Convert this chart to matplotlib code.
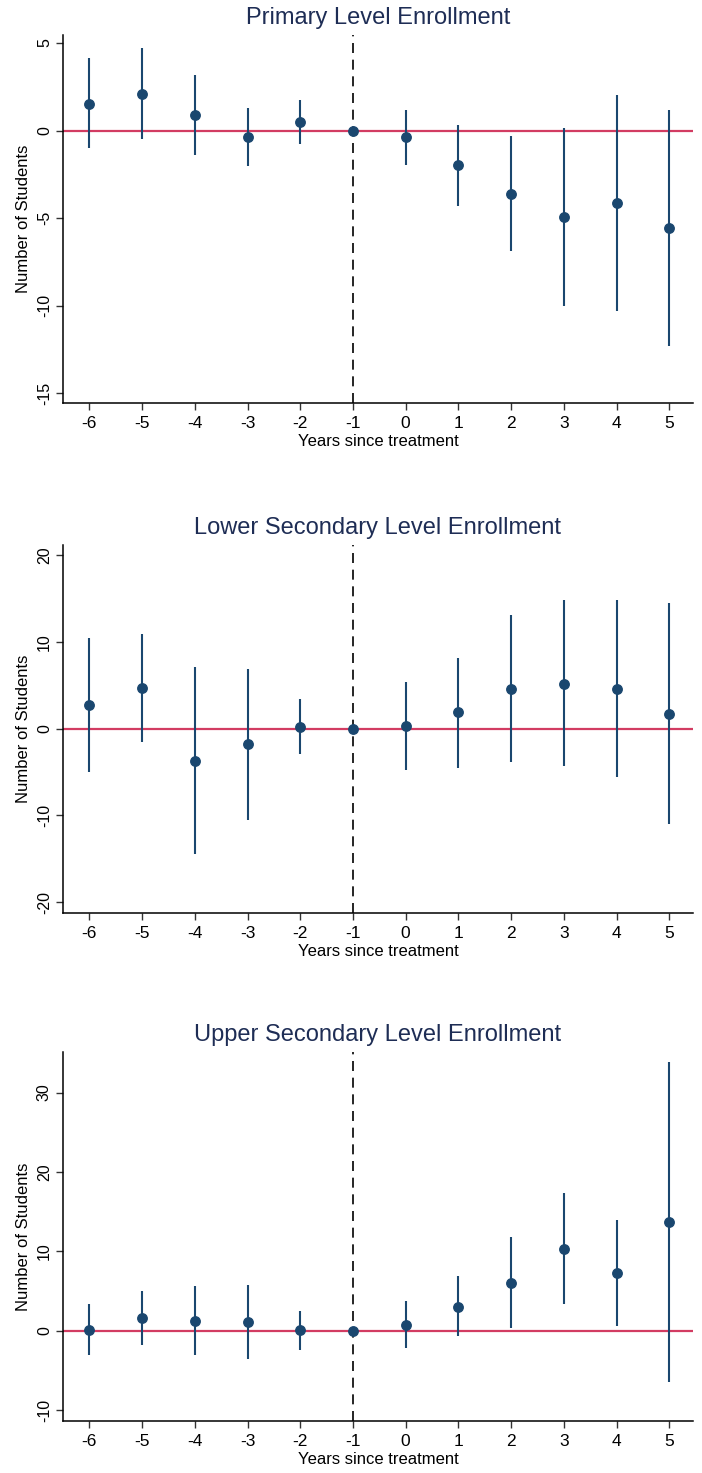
import matplotlib
matplotlib.use("Agg")
import matplotlib.pyplot as plt

years = [-6, -5, -4, -3, -2, -1, 0, 1, 2, 3, 4, 5]

titles = ["Primary Level Enrollment",
          "Lower Secondary Level Enrollment",
          "Upper Secondary Level Enrollment"]

primary_coef = [1.53, 2.09, 0.88, -0.38, 0.50, 0.0, -0.38, -1.99, -3.62, -4.94, -4.14, -5.56]
primary_hi = [4.12, 4.69, 3.20, 1.28, 1.72, 0.0, 1.17, 0.33, -0.29, 0.15, 2.05, 1.19]
primary_lo = [-1.00, -0.48, -1.40, -2.01, -0.77, 0.0, -1.95, -4.31, -6.90, -10.02, -10.30, -12.32]

lower_coef = [2.76, 4.68, -3.72, -1.80, 0.19, 0.0, 0.31, 1.88, 4.56, 5.22, 4.64, 1.76]
lower_hi = [10.47, 10.97, 7.17, 6.94, 3.41, 0.0, 5.45, 8.21, 13.08, 14.80, 14.84, 14.46]
lower_lo = [-4.95, -1.53, -14.50, -10.55, -2.95, 0.0, -4.76, -4.49, -3.87, -4.30, -5.56, -10.93]

upper_coef = [0.17, 1.64, 1.26, 1.09, 0.08, 0.0, 0.80, 3.06, 6.08, 10.37, 7.34, 13.68]
upper_hi = [3.44, 5.08, 5.62, 5.83, 2.52, 0.0, 3.73, 6.88, 11.79, 17.37, 13.97, 33.82]
upper_lo = [-3.06, -1.80, -3.06, -3.52, -2.35, 0.0, -2.18, -0.67, 0.42, 3.44, 0.67, -6.46]

yticks_list = [[-15, -10, -5, 0, 5], [-20, -10, 0, 10, 20], [-10, 0, 10, 20, 30]]
ylims = [(-15.57, 5.46), (-21.25, 21.2), (-11.33, 35.1)]

data = [(primary_coef, primary_lo, primary_hi),
        (lower_coef, lower_lo, lower_hi),
        (upper_coef, upper_lo, upper_hi)]

font = "Liberation Sans"

navy = "#1a476f"
title_col = "#1e2d55"
red = "#d23c62"

fig = plt.figure(figsize=(7.02, 14.73), dpi=100)
W, H = 702, 1473
left, right = 63, 693
panel_tb = [(35, 403), (545, 913), (1052, 1421)]

for i, (top, bot) in enumerate(panel_tb):
    ax = fig.add_axes([left / W, 1 - bot / H, (right - left) / W, (bot - top) / H])
    coef, lo, hi = data[i]
    ax.axhline(0, color=red, lw=1.6, zorder=1)
    ax.axvline(-1, color="black", lw=1.2, ls=(0, (6, 4)), zorder=2)
    ax.vlines(years, lo, hi, color=navy, lw=1.5, zorder=3)
    ax.plot(years, coef, "o", color=navy, ms=6.8, zorder=4)
    ax.set_xlim(-6.5, 5.45)
    ax.set_ylim(*ylims[i])
    ax.set_xticks(years)
    ax.set_xticklabels([str(y) for y in years], fontfamily=font, fontsize=12.5)
    ax.set_yticks(yticks_list[i])
    ax.set_yticklabels([str(t) for t in yticks_list[i]], rotation=90, va="center",
                       fontfamily=font, fontsize=11.5)
    ax.tick_params(axis="both", direction="out", length=5, width=1, color="#333333")
    ax.tick_params(axis="x", pad=4)
    ax.tick_params(axis="y", pad=3)
    for s in ["top", "right"]:
        ax.spines[s].set_visible(False)
    for s in ["left", "bottom"]:
        ax.spines[s].set_linewidth(1.1)
    ax.set_xlabel("Years since treatment", fontfamily=font, fontsize=12, labelpad=2.5)
    ax.set_ylabel("Number of Students", fontfamily=font, fontsize=12, labelpad=4)
    ax.set_title(titles[i], fontfamily=font, fontsize=17, color=title_col, pad=8)

fig.savefig("out.png", dpi=100)
